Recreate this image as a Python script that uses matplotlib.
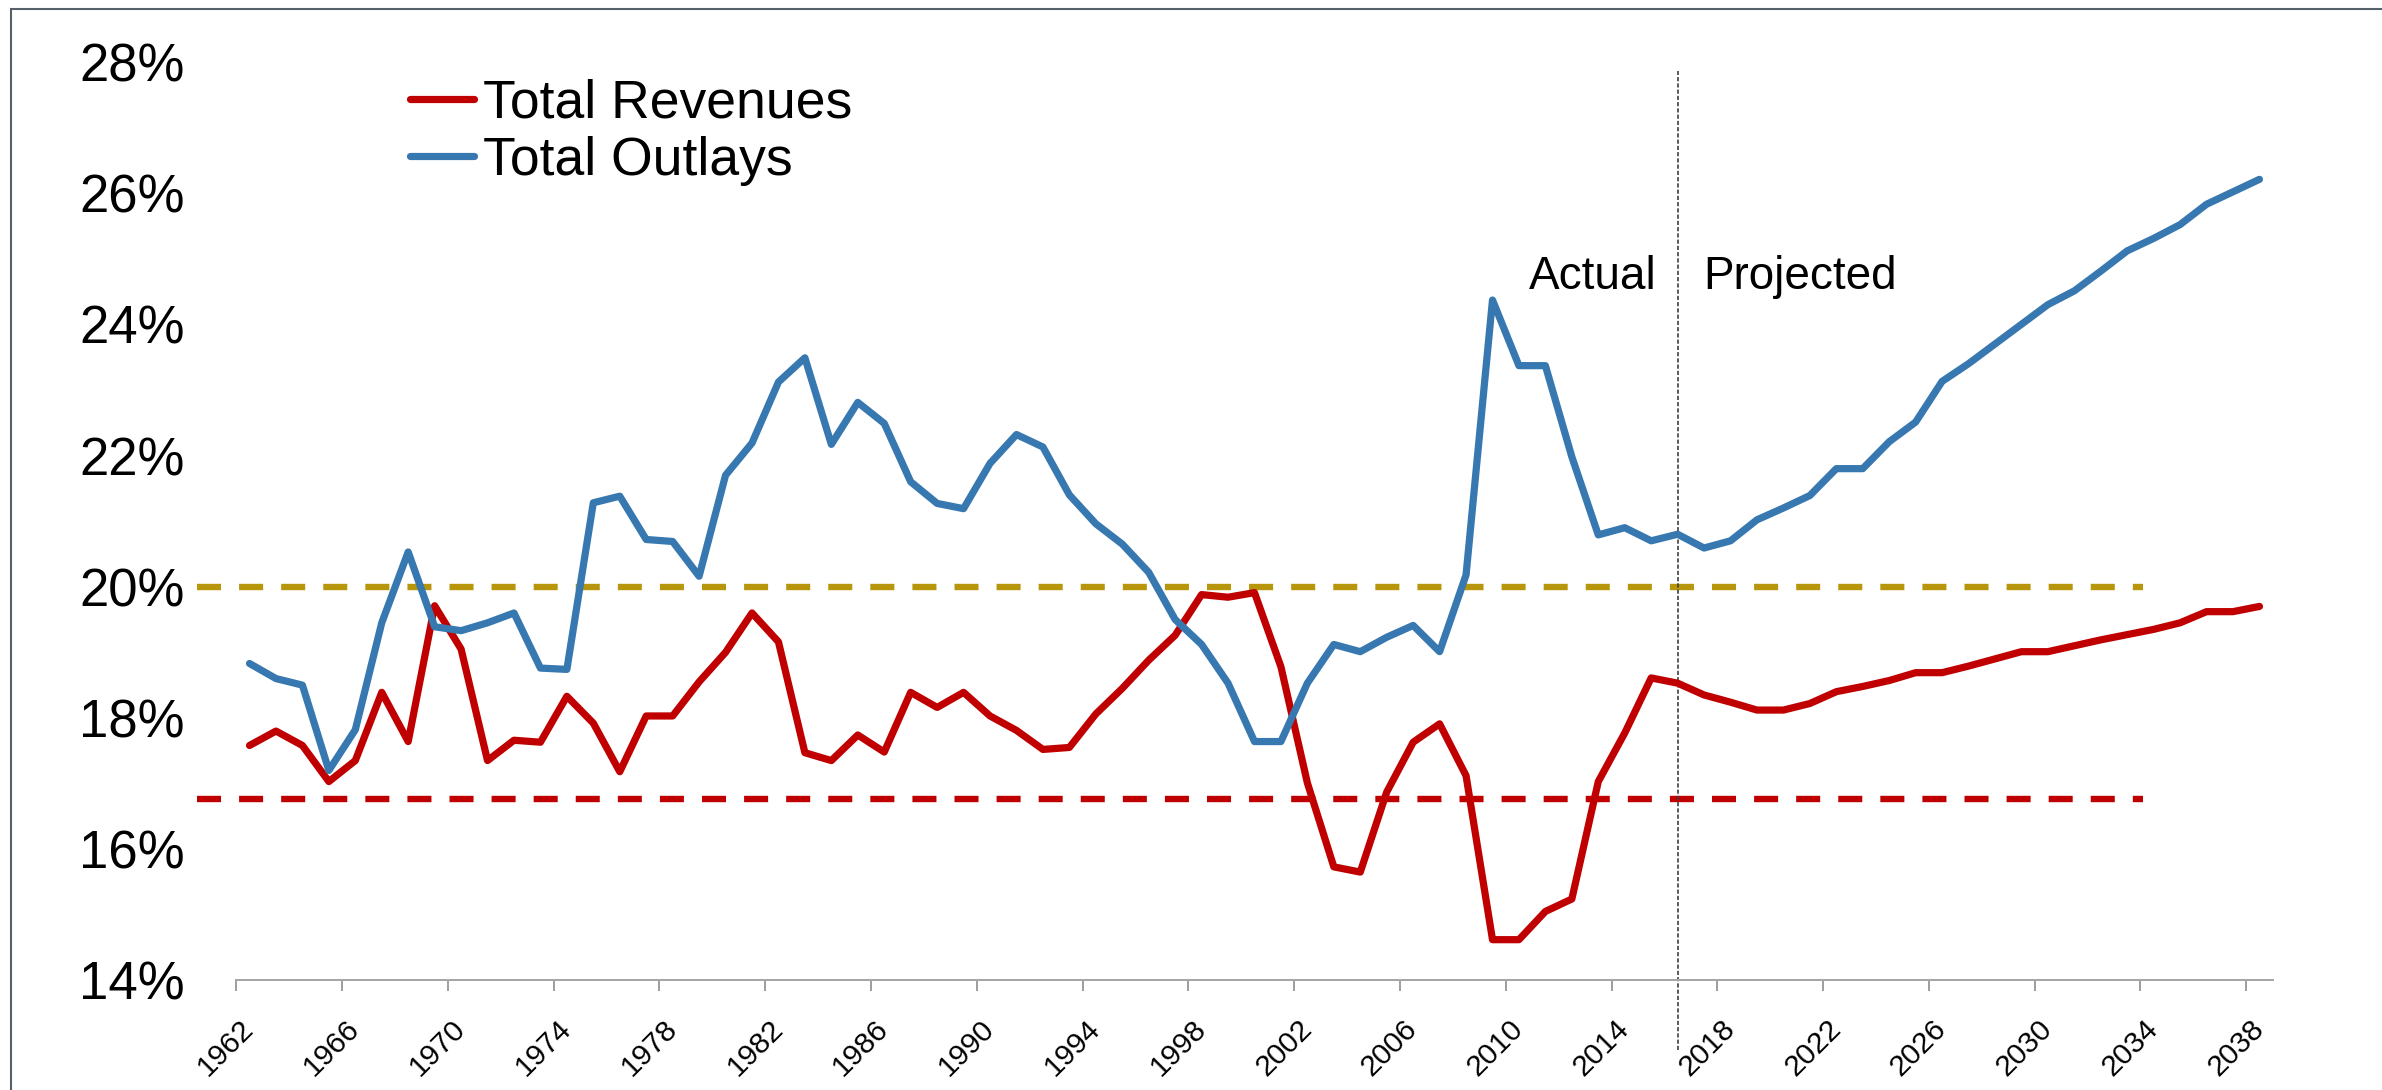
import numpy as np
import matplotlib
matplotlib.use('Agg')
import matplotlib.pyplot as plt
from matplotlib.patches import Rectangle

plt.rcParams['font.family'] = ['Liberation Sans', 'DejaVu Sans']
plt.rcParams['lines.scale_dashes'] = False

# data (% of GDP)
years = list(range(1962, 2039))
revenues = [17.58, 17.80, 17.58, 17.03, 17.35, 18.39, 17.64, 19.71, 19.05, 17.35,
            17.66, 17.63, 18.33, 17.92, 17.18, 18.03, 18.03, 18.55, 19.00, 19.60,
            19.16, 17.47, 17.35, 17.74, 17.48, 18.39, 18.16, 18.39, 18.03, 17.81,
            17.52, 17.55, 18.06, 18.45, 18.88, 19.26, 19.88, 19.84, 19.91, 18.78,
            17.01, 15.73, 15.65, 16.87, 17.63, 17.91, 17.12, 14.62, 14.62, 15.05,
            15.24, 17.03, 17.77, 18.61, 18.53, 18.35, 18.24, 18.12, 18.12, 18.22,
            18.40, 18.48, 18.57, 18.69, 18.69, 18.79, 18.90, 19.01, 19.01, 19.10,
            19.19, 19.27, 19.35, 19.45, 19.62, 19.62, 19.70]
outlays = [18.83, 18.60, 18.50, 17.20, 17.82, 19.45, 20.53, 19.39, 19.33, 19.45,
           19.60, 18.76, 18.74, 21.28, 21.38, 20.72, 20.69, 20.16, 21.70, 22.19,
           23.12, 23.49, 22.17, 22.81, 22.49, 21.60, 21.27, 21.19, 21.88, 22.32,
           22.13, 21.40, 20.96, 20.65, 20.22, 19.50, 19.12, 18.53, 17.64, 17.64,
           18.53, 19.12, 19.01, 19.23, 19.41, 19.01, 20.18, 24.37, 23.37, 23.37,
           21.98, 20.79, 20.90, 20.70, 20.80, 20.59, 20.70, 21.02, 21.20, 21.39,
           21.80, 21.80, 22.21, 22.51, 23.13, 23.40, 23.70, 24.00, 24.30, 24.51,
           24.81, 25.12, 25.31, 25.52, 25.83, 26.02, 26.21]

revenue_avg = 16.76
outlay_avg = 20.0
avg_span = [1960.0, 2033.6]
split_year = 2016

ytick_vals = [14, 16, 18, 20, 22, 24, 26, 28]
label_years = list(range(1962, 2039, 4))

red = '#C00000'
blue = '#3778B0'
gold = '#B8960B'

fig = plt.figure(figsize=(23.82, 10.9), dpi=100)
ax = fig.add_axes([0.0992, 0.1006, 0.8549, 0.8426])

# historical averages
ax.plot(avg_span, [outlay_avg, outlay_avg], color=gold, lw=4.6,
        dashes=(17.3, 13), dash_capstyle='butt', clip_on=False)
ax.plot(avg_span, [revenue_avg, revenue_avg], color=red, lw=4.6,
        dashes=(17.3, 13), dash_capstyle='butt', clip_on=False)

ax.plot(years, revenues, color=red, lw=5.2, solid_joinstyle='round',
        solid_capstyle='round', label='Total Revenues', zorder=3)
ax.plot(years, outlays, color=blue, lw=5.2, solid_joinstyle='round',
        solid_capstyle='round', label='Total Outlays', zorder=3)

# actual / projected split
ax.axvline(split_year, ymin=-0.076, ymax=0.99, color='#404040', lw=1.2,
           linestyle=(0, (3, 1.5)), clip_on=False)
ax.text(split_year - 0.8, 24.54, 'Actual', fontsize=33, ha='right', va='baseline')
ax.text(split_year + 0.97, 24.54, 'Projected', fontsize=33, ha='left', va='baseline')

ax.set_xlim(1961.5, 2038.5)
ax.set_ylim(14, 28)

ax.set_yticks(ytick_vals)
ax.set_yticklabels([f'{v}%' for v in ytick_vals])
ax.tick_params(axis='y', length=0, pad=37, labelsize=38)

ax.set_xticks(np.arange(1961.5, 2038.6, 4))
ax.set_xticklabels([])
ax.set_xticks(label_years, minor=True)
ax.set_xticklabels([str(y) for y in label_years], minor=True)
ax.tick_params(axis='x', which='major', length=8, width=1.44, color='#A0A0A0')
ax.tick_params(axis='x', which='minor', length=0, pad=32, labelsize=21.5)
for lab in ax.get_xticklabels(minor=True):
    lab.set_rotation(45)
    lab.set_ha('right')
    lab.set_va('center')
    lab.set_rotation_mode('anchor')

for s in ['left', 'top', 'right']:
    ax.spines[s].set_visible(False)
ax.spines['bottom'].set_color('#A6A6A6')
ax.spines['bottom'].set_linewidth(1.44)

ax.legend(loc='center left', bbox_to_anchor=(0.1721, 0.8785),
          bbox_transform=fig.transFigure, frameon=False, fontsize=38.5,
          handlelength=1.2, handletextpad=0.16, labelspacing=0.14,
          borderpad=0, borderaxespad=0)

# outer frame (only top and left edges are inside the image)
fig.add_artist(Rectangle((11 / 2382, -0.5), 2.0, 1.5 - 9 / 1090,
                         transform=fig.transFigure, fill=False,
                         edgecolor='#55606B', lw=1.5))

fig.savefig('out.png', dpi=100)
